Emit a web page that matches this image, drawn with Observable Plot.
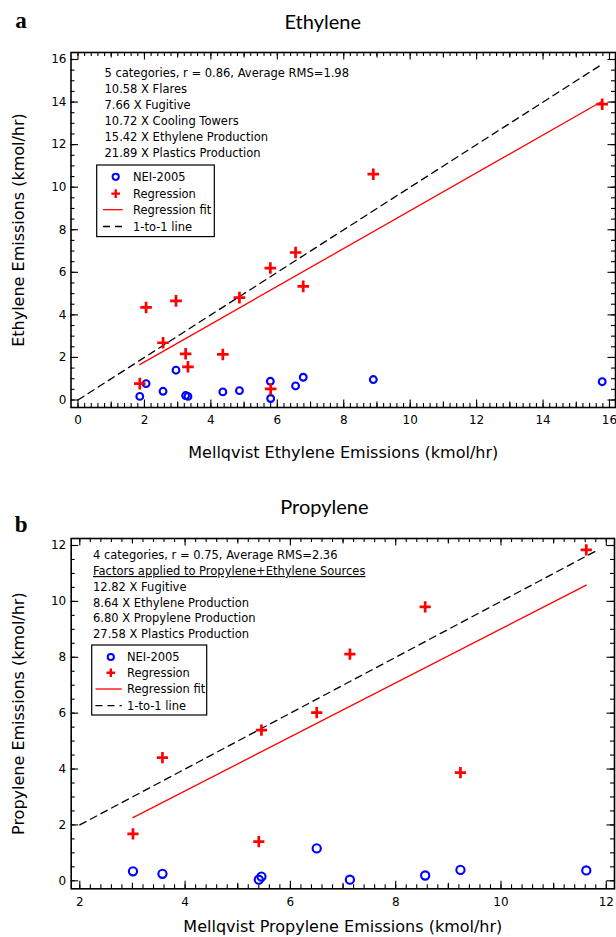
<!DOCTYPE html>
<html><head><meta charset="utf-8">
<script src="https://cdn.jsdelivr.net/npm/d3@7"></script>
<script src="https://cdn.jsdelivr.net/npm/@observablehq/plot@0.6"></script>
<style>
html,body{margin:0;padding:0;background:#fff;}
body{width:616px;height:937px;overflow:hidden;}
svg{display:block;}
</style></head>
<body><div id="chart"></div>
<script>
// ---------- Panel a: Ethylene ----------
const ethMellqvist  = [1.86, 2.05, 2.56, 2.95, 3.24, 3.31, 4.36, 4.86, 5.79, 5.80, 6.55, 6.78, 8.89, 15.78];
const ethRegression = [0.77, 4.35, 2.69, 4.66, 2.17, 1.56, 2.14, 4.81, 6.20, 0.52, 6.93, 5.34, 10.61, 13.90];
const ethNEI        = [0.17, 0.77, 0.41, 1.40, 0.21, 0.17, 0.38, 0.44, 0.88, 0.07, 0.66, 1.07, 0.96, 0.86];
const ethFitX = [1.86, 15.78];
const ethFitY = [1.66, 14.04];
const ethOneToOne = [0, 15.8];
const ethNotes = [
  "5 categories, r = 0.86, Average RMS=1.98",
  "10.58 X Flares",
  "7.66 X Fugitive",
  "10.72 X Cooling Towers",
  "15.42 X Ethylene Production",
  "21.89 X Plastics Production"
];
const ethXTicks = [0, 2, 4, 6, 8, 10, 12, 14, 16];
const ethYTicks = [0, 2, 4, 6, 8, 10, 12, 14, 16];

// ---------- Panel b: Propylene ----------
const proMellqvist  = [3.01, 3.57, 5.40, 5.45, 6.50, 7.13, 8.56, 9.23, 11.62];
const proRegression = [1.68, 4.41, 1.40, 5.39, 6.02, 8.11, 9.80, 3.87, 11.84];
const proNEI        = [0.34, 0.25, 0.04, 0.15, 1.16, 0.04, 0.19, 0.39, 0.37];
const proFitX = [3.01, 11.62];
const proFitY = [2.26, 10.58];
const proOneToOne = [2, 11.85];
const proNotes = [
  "4 categories, r = 0.75, Average RMS=2.36",
  "Factors applied to Propylene+Ethylene Sources",
  "12.82 X Fugitive",
  "8.64 X Ethylene Production",
  "6.80 X Propylene Production",
  "27.58 X Plastics Production"
];
const proXTicks = [2, 4, 6, 8, 10, 12];
const proYTicks = [0, 2, 4, 6, 8, 10, 12];

const legendLabels = ["NEI-2005", "Regression", "Regression fit", "1-to-1 line"];

const BLUE = "#0000ff", RED = "#ff0000";
const plusSymbol = {
  draw(ctx, size) {
    const r = Math.sqrt(size / Math.PI);
    ctx.moveTo(-r, 0); ctx.lineTo(r, 0);
    ctx.moveTo(0, -r); ctx.lineTo(0, r);
  }
};

function range(a, b, step) {
  const n = Math.round((b - a) / step);
  return d3.range(n + 1).map(i => +(a + i * step).toFixed(4));
}

function panel(cfg) {
  const m = cfg.margin;
  const fw = cfg.width - m.left - m.right;
  const fh = cfg.height - m.top - m.bottom;
  const [x0, x1] = cfg.xDomain, [y0, y1] = cfg.yDomain;
  const xMinor = range(x0, x1, 0.2);
  const xMid = range(x0 + 1, x1, 2).filter(v => v <= x1);
  const yMinor = range(y0, y1, 0.5);
  const tickStyle = {stroke: "#000", strokeWidth: 1.1};
  const pts = cfg.mell.map((x, i) => ({x, nei: cfg.nei[i], reg: cfg.reg[i]}));
  const fit = cfg.fitX.map((x, i) => ({x, y: cfg.fitY[i]}));

  const svg = Plot.plot({
    width: cfg.width,
    height: cfg.height,
    marginTop: m.top, marginBottom: m.bottom, marginLeft: m.left, marginRight: m.right,
    style: {fontFamily: "'DejaVu Sans', sans-serif", fontSize: "12px", background: "#fff", color: "#000", overflow: "visible"},
    x: {domain: cfg.xDomain, insetLeft: cfg.inset.left, insetRight: cfg.inset.right},
    y: {domain: cfg.yDomain, insetTop: cfg.inset.top, insetBottom: cfg.inset.bottom},
    marks: [
      // ticks on all four sides, pointing inward
      Plot.tickX(xMinor, {x: d => d, insetTop: fh - 4, ...tickStyle}),
      Plot.tickX(xMinor, {x: d => d, insetBottom: fh - 4, ...tickStyle}),
      Plot.tickX(xMid, {x: d => d, insetTop: fh - 5.5, ...tickStyle}),
      Plot.tickX(xMid, {x: d => d, insetBottom: fh - 5.5, ...tickStyle}),
      Plot.tickX(cfg.xTicks, {x: d => d, insetTop: fh - 7.5, ...tickStyle}),
      Plot.tickX(cfg.xTicks, {x: d => d, insetBottom: fh - 7.5, ...tickStyle}),
      Plot.tickY(yMinor, {y: d => d, insetRight: fw - 4, ...tickStyle}),
      Plot.tickY(yMinor, {y: d => d, insetLeft: fw - 4, ...tickStyle}),
      Plot.tickY(cfg.yTicks, {y: d => d, insetRight: fw - 7.5, ...tickStyle}),
      Plot.tickY(cfg.yTicks, {y: d => d, insetLeft: fw - 7.5, ...tickStyle}),
      Plot.frame({stroke: "#000", strokeWidth: 1.6}),
      Plot.axisX(cfg.xTicks, {tickSize: 0, tickPadding: cfg.xPad, label: null, fontSize: 12}),
      Plot.axisY(cfg.yTicks, {tickSize: 0, tickPadding: cfg.yPad, label: null, fontSize: 12}),
      // data
      Plot.line(cfg.oneToOne, {x: d => d, y: d => d, stroke: "#000", strokeWidth: 1.3, strokeDasharray: "7,5"}),
      Plot.line(fit, {x: "x", y: "y", stroke: RED, strokeWidth: 1.3}),
      Plot.dot(pts, {x: "x", y: "nei", r: cfg.circleR, stroke: BLUE, strokeWidth: 2.1, fill: "none"}),
      Plot.dot(pts, {x: "x", y: "reg", symbol: plusSymbol, r: cfg.plusR, stroke: RED, strokeWidth: 2.7, fill: "none"}),
      // notes
      Plot.text([cfg.notes.join("\n")], {frameAnchor: "top-left", dx: cfg.notesPos[0], dy: cfg.notesPos[1],
        textAnchor: "start", lineAnchor: "top", lineHeight: cfg.notesLH, fontSize: 11.5}),
      // axis titles
      Plot.text([cfg.xLabel], {frameAnchor: "bottom", dy: cfg.xLabelDy, textAnchor: "middle", lineAnchor: "middle", fontSize: 16}),
      Plot.text([cfg.yLabel], {frameAnchor: "left", dx: cfg.yLabelDx, rotate: -90, textAnchor: "middle", lineAnchor: "middle", fontSize: 16}),
      // panel title and letter
      Plot.text([cfg.title], {frameAnchor: "top", dx: cfg.titlePos[0], dy: cfg.titlePos[1], textAnchor: "middle", lineAnchor: "middle",
        fontSize: 20, fontFamily: "Lato, 'Open Sans', sans-serif"}),
      Plot.text([cfg.letter], {frameAnchor: "top-left", dx: cfg.letterPos[0], dy: cfg.letterPos[1], textAnchor: "middle", lineAnchor: "middle",
        fontSize: 23, fontWeight: "bold", fontFamily: "'Liberation Serif', serif"})
    ]
  });

  // underline specified note lines
  d3.select(svg).selectAll("tspan, text").filter(function () {
    return this.childElementCount === 0 && this.textContent.startsWith("Factors applied");
  }).attr("text-decoration", "underline");

  // legend box
  const L = cfg.legend;
  const g = d3.select(svg).append("g")
    .attr("transform", `translate(${m.left + L.x},${m.top + L.y})`)
    .attr("font-family", "'DejaVu Sans', sans-serif").attr("font-size", 11.5)
    .attr("text-anchor", "start");
  g.append("rect").attr("width", L.w).attr("height", L.h).attr("fill", "#fff").attr("stroke", "#000").attr("stroke-width", 1.2);
  legendLabels.forEach((lab, i) => {
    const cy = L.rows[i];
    if (i === 0) {
      g.append("circle").attr("cx", L.sym).attr("cy", cy).attr("r", 3.1).attr("fill", "none").attr("stroke", BLUE).attr("stroke-width", 2);
    } else if (i === 1) {
      const r = 4.3;
      g.append("path").attr("d", `M${L.sym - r},${cy}H${L.sym + r}M${L.sym},${cy - r}V${cy + r}`).attr("stroke", RED).attr("stroke-width", 2.4).attr("fill", "none");
    } else if (i === 2) {
      g.append("line").attr("x1", L.line[0]).attr("x2", L.line[1]).attr("y1", cy).attr("y2", cy).attr("stroke", RED).attr("stroke-width", 1.3);
    } else {
      g.append("line").attr("x1", L.line[0]).attr("x2", L.line[1]).attr("y1", cy).attr("y2", cy).attr("stroke", "#000").attr("stroke-width", 1.3).attr("stroke-dasharray", "7,5");
    }
    g.append("text").attr("x", L.tx).attr("y", cy).attr("dy", "0.35em").attr("text-anchor", "start").text(lab);
  });
  return svg;
}

const chart = document.getElementById("chart");

chart.appendChild(panel({
  width: 616, height: 470,
  margin: {top: 52, bottom: 63, left: 70.5, right: 1},
  inset: {left: 7, right: 6, top: 7, bottom: 7.5},
  xDomain: [0, 16], yDomain: [0, 16],
  xTicks: ethXTicks, yTicks: ethYTicks, xPad: 8, yPad: 4.5,
  mell: ethMellqvist, nei: ethNEI, reg: ethRegression,
  fitX: ethFitX, fitY: ethFitY, oneToOne: ethOneToOne,
  circleR: 3.4, plusR: 5.8,
  notes: ethNotes, notesPos: [33.5, 13], notesLH: 1.391,
  xLabel: "Mellqvist Ethylene Emissions (kmol/hr)", xLabelDy: 45,
  yLabel: "Ethylene Emissions (kmol/hr)", yLabelDx: -52,
  title: "Ethylene", titlePos: [-20.5, -30],
  letter: "a", letterPos: [-50, -32],
  legend: {x: 26.2, y: 113, w: 117.6, h: 71.6, rows: [11.8, 28.6, 44.7, 61.5], sym: 19, tx: 36.3, line: [6.3, 26]}
}));

chart.appendChild(panel({
  width: 616, height: 467,
  margin: {top: 68, bottom: 48.7, left: 70.7, right: 2},
  inset: {left: 8.6, right: 8.2, top: 7, bottom: 8},
  xDomain: [2, 12], yDomain: [0, 12],
  xTicks: proXTicks, yTicks: proYTicks, xPad: 8.5, yPad: 5,
  mell: proMellqvist, nei: proNEI, reg: proRegression,
  fitX: proFitX, fitY: proFitY, oneToOne: proOneToOne,
  circleR: 4.1, plusR: 5.6,
  notes: proNotes, notesPos: [21.8, 9.5], notesLH: 1.374,
  xLabel: "Mellqvist Propylene Emissions (kmol/hr)", xLabelDy: 38.5,
  yLabel: "Propylene Emissions (kmol/hr)", yLabelDx: -52,
  title: "Propylene", titlePos: [-18.5, -31],
  letter: "b", letterPos: [-50, -14],
  legend: {x: 21, y: 107, w: 115, h: 70, rows: [12, 27.7, 44, 60.7], sym: 19.1, tx: 35.3, line: [3.8, 30.1]}
}));
</script>
</body></html>
